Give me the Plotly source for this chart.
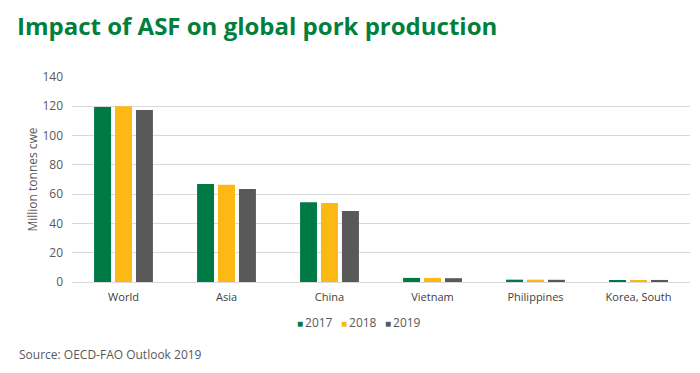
import plotly.graph_objects as go

categories = ["World", "Asia", "China", "Vietnam", "Philippines", "Korea, South"]
years = ["2017", "2018", "2019"]
values_2017 = [119.5, 67.0, 54.5, 2.8, 1.6, 1.3]
values_2018 = [120.0, 66.5, 54.0, 2.8, 1.6, 1.3]
values_2019 = [117.5, 63.5, 48.5, 2.6, 1.5, 1.4]
colors = ["#007a45", "#fdb913", "#595959"]

FONT = "Open Sans"
# page body has an 8px margin, so figure is drawn 8px shifted
W, H = 692, 365
L, R, T, B = 64, 10, 69, 91
PW, PH = W - L - R, H - T - B

fig = go.Figure()
for name, vals, c in zip(years, [values_2017, values_2018, values_2019], colors):
    fig.add_trace(go.Bar(x=categories, y=vals, name=name, showlegend=False,
                         marker=dict(color=c, line=dict(width=0))))

fig.update_layout(
    width=W, height=H,
    paper_bgcolor="white", plot_bgcolor="white",
    margin=dict(l=L, r=R, t=T, b=B),
    barmode="group", bargap=0.39, bargroupgap=0.19,
    font=dict(family=FONT, color="#595959", size=11),
    title=dict(text="<b>Impact of ASF on global pork production</b>", x=9 / W, xanchor="left",
               y=1 - 19 / H, yanchor="middle", font=dict(family=FONT, size=24, color="#00803c")),
    showlegend=False,
)
fig.update_yaxes(range=[0, 140], dtick=20, showgrid=True, gridcolor="#d9d9d9", gridwidth=1,
                 zeroline=False, showline=False, ticks="", ticklabelstandoff=8,
                 tickfont=dict(size=12, color="#595959"),
                 title=dict(text="Million tonnes cwe", font=dict(size=12, color="#595959"), standoff=2))
fig.update_xaxes(showline=True, linecolor="#d9d9d9", linewidth=1, ticks="", ticklabelstandoff=5,
                 tickfont=dict(size=11, color="#404040"))

# legend (one entry per series)
legend_y = (T + PH - (322 - 8)) / PH
for i, (y, c) in enumerate(zip(years, colors)):
    fig.add_annotation(text=f"<span style='font-size:10px;color:{c}'>■</span>\u2009{y}",
                       xref="paper", yref="paper",
                       x=(295 + 44 * i - 8 - L) / PW, y=legend_y, xanchor="left", yanchor="middle",
                       showarrow=False, font=dict(family=FONT, size=12, color="#595959"))
fig.add_annotation(text="Source: OECD-FAO Outlook 2019", xref="paper", yref="paper",
                   x=(9 - L) / PW, y=(T + PH - (354 - 8)) / PH, xanchor="left", yanchor="middle",
                   showarrow=False, font=dict(family=FONT, size=12, color="#595959"))
fig.write_html("out.html")
